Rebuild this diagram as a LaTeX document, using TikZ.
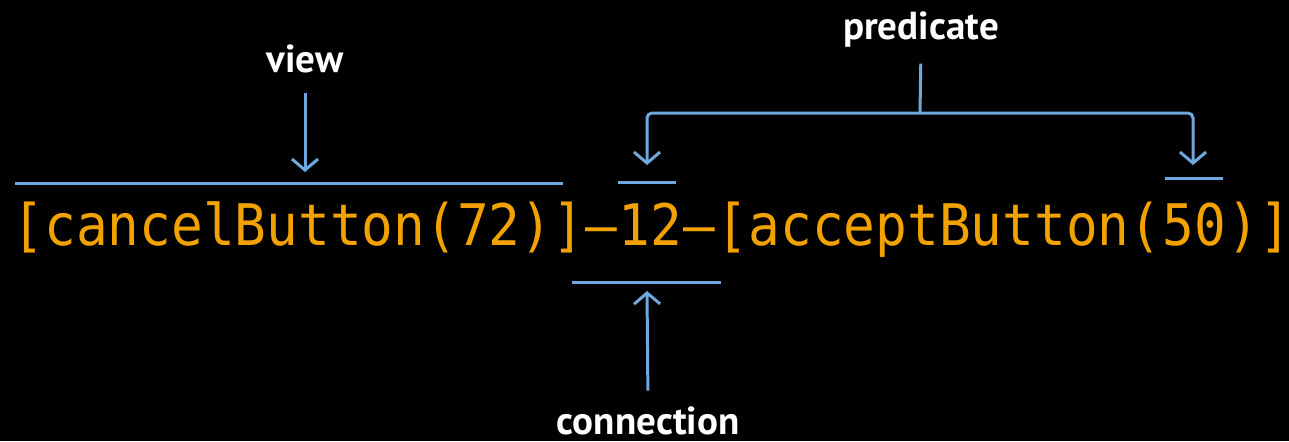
\documentclass[tikz,border=0pt]{standalone}
\usepackage{fontspec}
\setmainfont{PT Sans}
\newfontfamily\codefont[FakeStretch=0.92]{DejaVu Sans Mono}
\usetikzlibrary{arrows.meta}
\definecolor{linkblue}{RGB}{111,168,222}
\definecolor{codeorange}{RGB}{242,162,0}
\tikzset{
  code/.style={text=codeorange, font=\codefont\fontsize{16.3}{19}\selectfont, inner sep=0pt, anchor=base west},
  tag/.style={text=white, font=\bfseries\fontsize{11.1}{13}\selectfont, inner sep=0pt, anchor=base},
  bar/.style={draw=linkblue, line width=0.85pt},
  arr/.style={bar, -{Straight Barb[length=1.1mm,width=2.6mm,line width=0.85pt]}}
}
\begin{document}
\begin{tikzpicture}[x=0.01cm, y=-0.01cm]
  \useasboundingbox[fill=black] (0,0) rectangle (1289,441);
  % code line
  \node[code] (cv) at (12,245) {[cancelButton(72)]};
  \node[code] (d1) at (cv.base east) {–};
  \node[code] (num) at (d1.base east) {12};
  \node[code] (d2) at (num.base east) {–};
  \node[code] (ca) at (d2.base east) {[acceptButton(};
  \node[code] (pr) at (ca.base east) {50};
  \node[code] (ce) at (pr.base east) {)]};
  % bars
  \draw[bar] (15,183) -- (563,183);
  \draw[bar] (618,182) -- (676,182);
  \draw[bar] (1165,178) -- (1223,178);
  \draw[bar] (572,282) -- (721,282);
  % labels
  \node[tag] (view) at (305,72) {view};
  \node[tag] (pred) at (921,39) {predicate};
  \node[tag] (conn) at (648,434) {connection};
  \coordinate (viewtip) at (305,172);
  \coordinate (split) at (920,113);
  \coordinate (lefttip) at (647,165);
  \coordinate (righttip) at (1193,165);
  \coordinate (conntip) at (647,291);
  % arrows
  \draw[arr, shorten <=0.2cm] (view.south) -- (viewtip);
  \draw[bar, shorten <=0.16cm] (pred.south) -- (split);
  \draw[arr, rounded corners=0.05cm] (split) -| (lefttip);
  \draw[arr, rounded corners=0.05cm] (split) -| (righttip);
  \draw[arr, shorten <=0.15cm] (conn.north) -- (conntip);
\end{tikzpicture}
\end{document}
